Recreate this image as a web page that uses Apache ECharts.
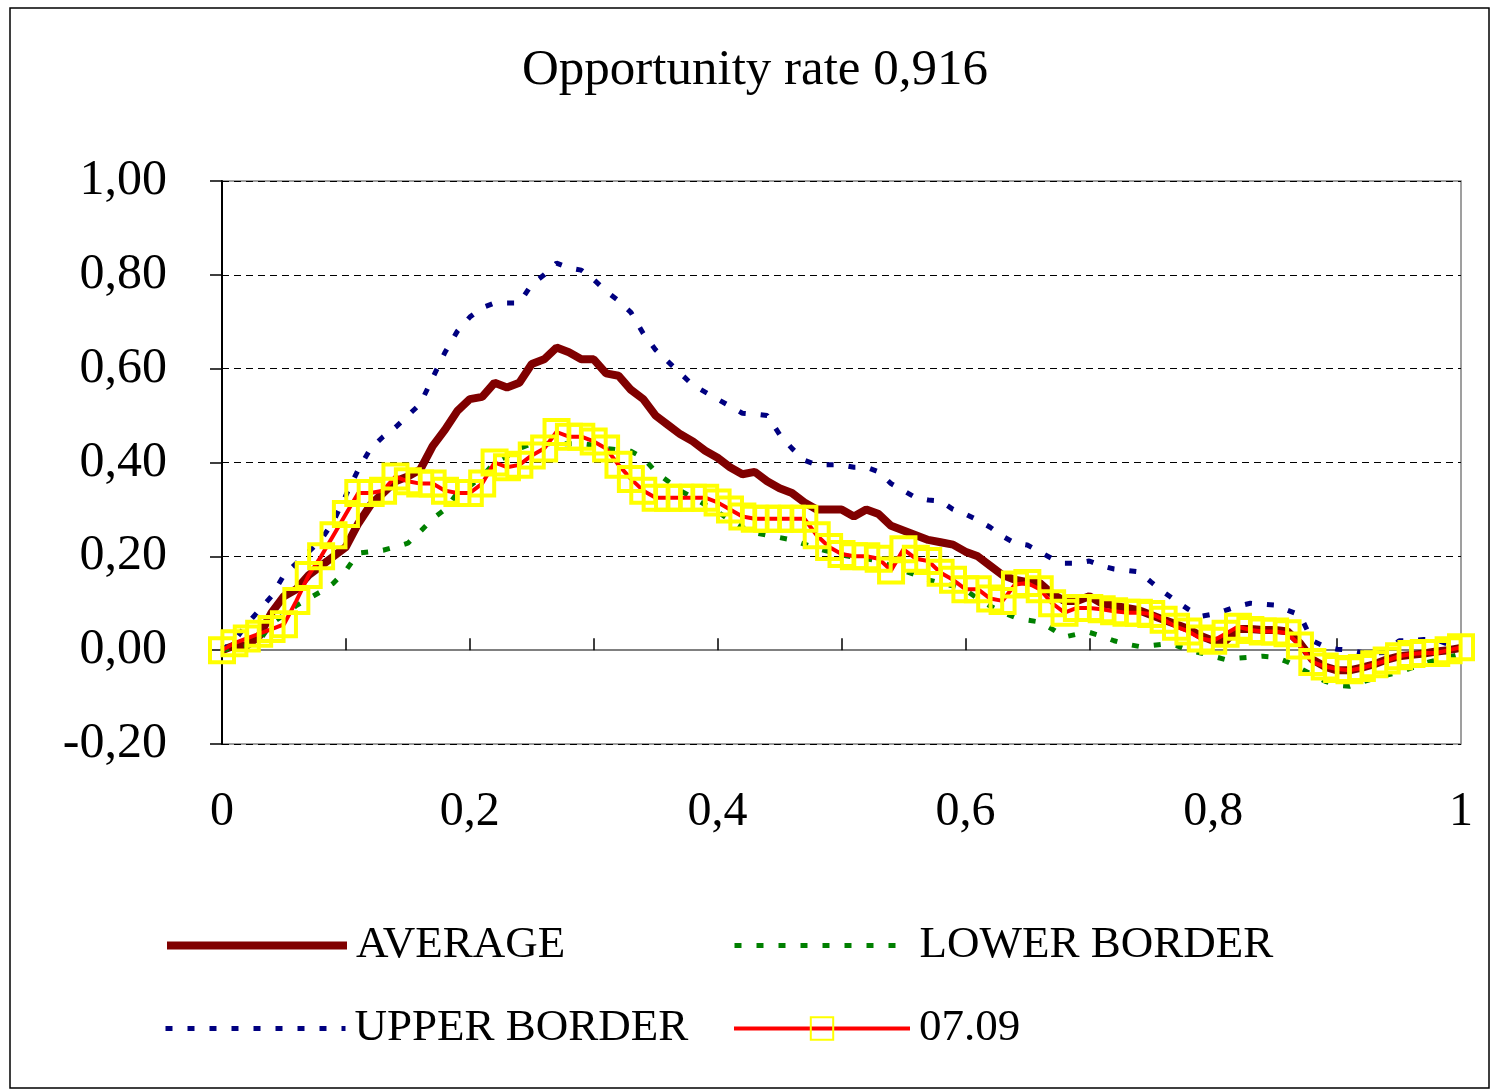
<!DOCTYPE html>
<html>
<head>
<meta charset="utf-8">
<title>Opportunity rate</title>
<script src="https://cdn.jsdelivr.net/npm/echarts@6/dist/echarts.min.js"></script>
<style>
    html, body { margin: 0; padding: 0; background: #fff; }
    #main { width: 1495px; height: 1091px; }
</style>
</head>
<body>
<div id="main"></div>
<script>
// x positions (share of the period)
var xValues = [
    0, 0.01, 0.02, 0.03, 0.04, 0.05, 0.06, 0.07, 0.08, 0.09,
    0.1, 0.11, 0.12, 0.13, 0.14, 0.15, 0.16, 0.17, 0.18, 0.19,
    0.2, 0.21, 0.22, 0.23, 0.24, 0.25, 0.26, 0.27, 0.28, 0.29,
    0.3, 0.31, 0.32, 0.33, 0.34, 0.35, 0.36, 0.37, 0.38, 0.39,
    0.4, 0.41, 0.42, 0.43, 0.44, 0.45, 0.46, 0.47, 0.48, 0.49,
    0.5, 0.51, 0.52, 0.53, 0.54, 0.55, 0.56, 0.57, 0.58, 0.59,
    0.6, 0.61, 0.62, 0.63, 0.64, 0.65, 0.66, 0.67, 0.68, 0.69,
    0.7, 0.71, 0.72, 0.73, 0.74, 0.75, 0.76, 0.77, 0.78, 0.79,
    0.8, 0.81, 0.82, 0.83, 0.84, 0.85, 0.86, 0.87, 0.88, 0.89,
    0.9, 0.91, 0.92, 0.93, 0.94, 0.95, 0.96, 0.97, 0.98, 0.99,
    1
];

var average = [
    0.00, 0.01, 0.01, 0.03, 0.08, 0.115, 0.13, 0.16, 0.18, 0.20,
    0.22, 0.27, 0.31, 0.335, 0.36, 0.37, 0.385, 0.435, 0.47, 0.51,
    0.535, 0.54, 0.57, 0.56, 0.57, 0.61, 0.62, 0.645, 0.635, 0.62,
    0.62, 0.59, 0.585, 0.555, 0.535, 0.50, 0.48, 0.46, 0.445, 0.425,
    0.41, 0.39, 0.375, 0.38, 0.36, 0.345, 0.335, 0.315, 0.30, 0.30,
    0.30, 0.285, 0.30, 0.29, 0.265, 0.255, 0.245, 0.235, 0.23, 0.225,
    0.21, 0.20, 0.18, 0.16, 0.15, 0.145, 0.143, 0.12, 0.105, 0.105,
    0.115, 0.10, 0.095, 0.09, 0.085, 0.075, 0.065, 0.055, 0.045, 0.03,
    0.02, 0.02, 0.045, 0.045, 0.043, 0.043, 0.04, 0.015, -0.02, -0.035,
    -0.043, -0.043, -0.037, -0.03, -0.02, -0.013, -0.01, -0.007, -0.003, 0.0,
    0.005
];

var lowerBorder = [
    0.00, 0.005, 0.008, 0.02, 0.057, 0.075, 0.095, 0.11, 0.125, 0.143,
    0.17, 0.207, 0.21, 0.213, 0.22, 0.228, 0.253, 0.28, 0.30, 0.335,
    0.35, 0.37, 0.40, 0.413, 0.43, 0.44, 0.44, 0.44, 0.44, 0.44,
    0.437, 0.43, 0.427, 0.424, 0.41, 0.38, 0.36, 0.34, 0.325, 0.31,
    0.295, 0.277, 0.262, 0.25, 0.245, 0.24, 0.235, 0.226, 0.217, 0.21,
    0.203, 0.198, 0.195, 0.19, 0.18, 0.17, 0.16, 0.15, 0.143, 0.137,
    0.128, 0.11, 0.094, 0.08, 0.07, 0.064, 0.06, 0.045, 0.028, 0.034,
    0.038, 0.03, 0.02, 0.013, 0.008, 0.01, 0.013, 0.01, 0.0, -0.006,
    -0.013, -0.02, -0.017, -0.015, -0.013, -0.015, -0.025, -0.038, -0.053, -0.066,
    -0.075, -0.077, -0.068, -0.06, -0.053, -0.047, -0.038, -0.028, -0.021, -0.015,
    -0.008
];

var upperBorder = [
    0.00, 0.02, 0.055, 0.085, 0.115, 0.16, 0.185, 0.21, 0.235, 0.275,
    0.33, 0.385, 0.43, 0.455, 0.475, 0.50, 0.525, 0.58, 0.635, 0.68,
    0.71, 0.73, 0.74, 0.74, 0.74, 0.78, 0.80, 0.825, 0.815, 0.81,
    0.79, 0.765, 0.745, 0.72, 0.675, 0.64, 0.615, 0.59, 0.565, 0.55,
    0.535, 0.52, 0.505, 0.503, 0.50, 0.46, 0.43, 0.405, 0.395, 0.395,
    0.395, 0.39, 0.39, 0.38, 0.355, 0.34, 0.325, 0.32, 0.318, 0.30,
    0.29, 0.277, 0.262, 0.243, 0.228, 0.224, 0.21, 0.195, 0.185, 0.185,
    0.19, 0.18, 0.173, 0.17, 0.167, 0.145, 0.124, 0.105, 0.087, 0.072,
    0.077, 0.085, 0.094, 0.10, 0.098, 0.096, 0.085, 0.075, 0.02, 0.008,
    0.002, 0.0, -0.005, -0.006, -0.005, 0.02, 0.02, 0.023, 0.022, 0.012,
    0.006
];

var day0709 = [
    0.00, 0.015, 0.025, 0.035, 0.045, 0.055, 0.105, 0.16, 0.20, 0.245,
    0.29, 0.335, 0.335, 0.34, 0.37, 0.36, 0.355, 0.355, 0.34, 0.335,
    0.335, 0.355, 0.40, 0.39, 0.395, 0.415, 0.43, 0.465, 0.455, 0.455,
    0.445, 0.43, 0.395, 0.365, 0.34, 0.325, 0.325, 0.325, 0.325, 0.325,
    0.315, 0.30, 0.285, 0.28, 0.28, 0.28, 0.28, 0.28, 0.245, 0.22,
    0.205, 0.20, 0.20, 0.195, 0.17, 0.215, 0.195, 0.19, 0.165, 0.15,
    0.13, 0.13, 0.11, 0.105, 0.14, 0.143, 0.13, 0.10, 0.08, 0.09,
    0.09, 0.087, 0.083, 0.08, 0.08, 0.077, 0.065, 0.05, 0.04, 0.025,
    0.02, 0.035, 0.05, 0.043, 0.04, 0.04, 0.036, 0.01, -0.025, -0.035,
    -0.04, -0.043, -0.038, -0.03, -0.022, -0.013, -0.008, -0.006, -0.006, 0.0,
    0.006
];

var serif = "'Liberation Serif', 'Times New Roman', serif";
var dotted = [7, 15];

function pairs(ys) {
    return xValues.map(function (x, i) {
        return [x, ys[i]];
    });
}

var myChart = echarts.init(document.getElementById('main'));

var legendText = {
    fontFamily: serif,
    fontSize: 45,
    color: '#000',
    padding: [0, 0, 0, 4]
};

// one legend box per entry, placed like the original 2x2 layout
function legendBox(name, left, top, width, line, hideSymbol) {
    var box = {
        data: [name],
        left: left,
        top: top,
        padding: 0,
        itemWidth: width,
        itemHeight: 28,
        textStyle: legendText,
        lineStyle: line
    };
    if (hideSymbol) {
        box.itemStyle = { opacity: 0 };
    }
    return box;
}

var option = {
    backgroundColor: '#fff',
    animation: false,
    title: {
        text: 'Opportunity rate 0,916',
        left: 522,
        top: 45,
        padding: 0,
        textStyle: {
            fontFamily: serif,
            fontSize: 51,
            fontWeight: 'normal',
            color: '#000'
        }
    },
    graphic: [
        {
            type: 'rect',
            shape: { x: 10, y: 8, width: 1479, height: 1080 },
            style: { fill: 'none', stroke: '#000', lineWidth: 1.5 },
            silent: true
        }
    ],
    legend: [
        legendBox('AVERAGE', 163, 923, 180, { color: '#800000', width: 8 }, true),
        legendBox('LOWER BORDER', 732, 923, 176, { color: '#008000', width: 5, type: dotted }, true),
        legendBox('UPPER BORDER', 163, 1006, 180, { color: '#000080', width: 5, type: dotted }, true),
        legendBox('07.09', 732, 1006, 176, { color: '#FF0000', width: 4 }, false)
    ],
    grid: {
        left: 222,
        right: 34,
        top: 181,
        bottom: 347,
        show: true,
        borderColor: '#808080',
        borderWidth: 1.5
    },
    xAxis: [
        {
            // labels along the bottom of the plot
            type: 'value',
            min: 0,
            max: 1,
            interval: 0.2,
            position: 'bottom',
            axisLine: { show: false, onZero: false },
            axisTick: { show: false },
            splitLine: { show: false },
            axisLabel: {
                margin: 44,
                fontFamily: serif,
                fontSize: 48,
                color: '#000',
                formatter: function (v) {
                    return String(Math.round(v * 10) / 10).replace('.', ',');
                }
            }
        },
        {
            // axis line crossing at 0
            type: 'value',
            min: 0,
            max: 1,
            interval: 0.1,
            position: 'bottom',
            axisLine: { show: true, onZero: true, lineStyle: { color: '#808080', width: 2 } },
            axisTick: { show: true, inside: true, length: 12, lineStyle: { color: '#000', width: 1.5 } },
            axisLabel: { show: false },
            splitLine: { show: false }
        }
    ],
    yAxis: {
        type: 'value',
        min: -0.2,
        max: 1,
        interval: 0.2,
        axisLine: { show: true, lineStyle: { color: '#000', width: 2 } },
        axisTick: { show: true, length: 12, lineStyle: { color: '#000', width: 1.5 } },
        axisLabel: {
            margin: 55,
            fontFamily: serif,
            fontSize: 50,
            color: '#000',
            formatter: function (v) {
                return v.toFixed(2).replace('.', ',');
            }
        },
        splitLine: {
            show: true,
            lineStyle: { color: '#000', width: 1, type: [7, 5] }
        }
    },
    series: [
        {
            name: 'AVERAGE',
            type: 'line',
            data: pairs(average),
            symbol: 'none',
            lineStyle: { color: '#800000', width: 8 },
            itemStyle: { color: '#800000' }
        },
        {
            name: 'LOWER BORDER',
            type: 'line',
            data: pairs(lowerBorder),
            symbol: 'none',
            lineStyle: { color: '#008000', width: 5, type: dotted },
            itemStyle: { color: '#008000' }
        },
        {
            name: 'UPPER BORDER',
            type: 'line',
            data: pairs(upperBorder),
            symbol: 'none',
            lineStyle: { color: '#000080', width: 5, type: dotted },
            itemStyle: { color: '#000080' }
        },
        {
            name: '07.09',
            type: 'line',
            data: pairs(day0709),
            symbol: 'rect',
            symbolSize: 24,
            lineStyle: { color: '#FF0000', width: 4 },
            itemStyle: {
                color: 'rgba(0,0,0,0)',
                borderColor: '#FFFF00',
                borderWidth: 4
            }
        }
    ]
};

myChart.setOption(option);
</script>
</body>
</html>
